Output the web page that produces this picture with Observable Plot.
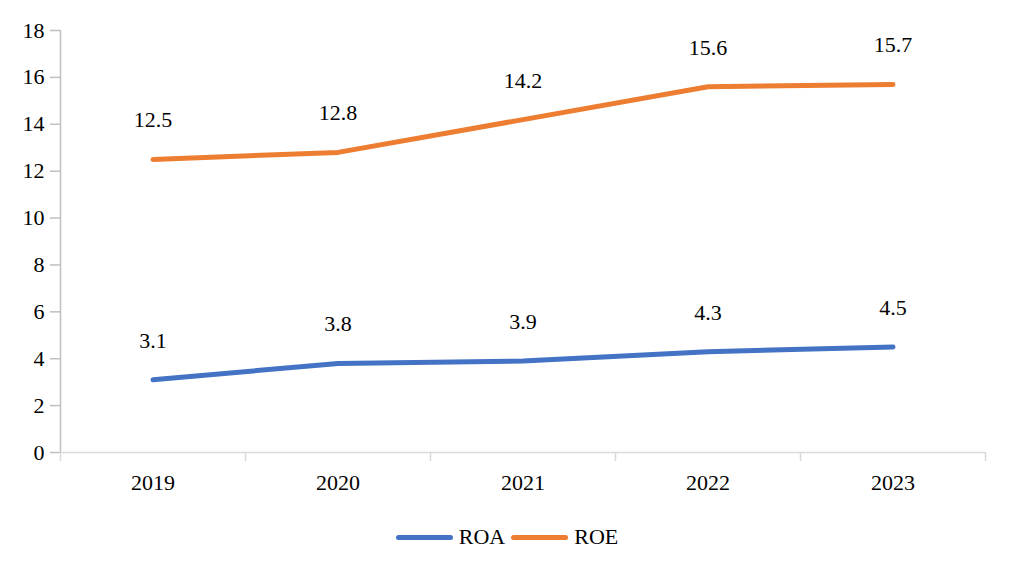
<!DOCTYPE html>
<html>
<head>
<meta charset="utf-8">
<script src="https://cdn.jsdelivr.net/npm/d3@7"></script>
<script src="https://cdn.jsdelivr.net/npm/@observablehq/plot@0.6"></script>
<style>
  body, #chart, #chart svg, #chart svg text, #chart div, #chart span {
    font-family: 'Times New Roman', 'Liberation Serif', serif !important;
  }
</style>
</head>
<body style="margin:0;padding:0;background:#fff">
<div id="chart" style="width:1014px"></div>
<script>
// Profitability ratios (%) by year
const years = [2019, 2020, 2021, 2022, 2023];
const roa = [3.1, 3.8, 3.9, 4.3, 4.5];
const roe = [12.5, 12.8, 14.2, 15.6, 15.7];
const yTicks = [0, 2, 4, 6, 8, 10, 12, 14, 16, 18];
const seriesNames = ["ROA", "ROE"];
const seriesColors = ["#4472C4", "#ED7D31"];

const rows = [
  ...years.map((year, i) => ({year, value: roa[i], series: "ROA"})),
  ...years.map((year, i) => ({year, value: roe[i], series: "ROE"}))
];

// category boundaries sit halfway between years
const xDomain = [years[0] - 0.5, years[years.length - 1] + 0.5];
const boundaries = [xDomain[0], ...years.map(y => y + 0.5)];

const font = "Times New Roman, Liberation Serif, serif";

const chart = Plot.plot({
  width: 1014,
  height: 500,
  marginTop: 30,
  marginBottom: 48,
  marginLeft: 60,
  marginRight: 29,
  style: {fontFamily: font, fontSize: "22px", color: "#000", background: "#fff"},
  x: {domain: xDomain},
  y: {domain: [0, 18]},
  color: {domain: seriesNames, range: seriesColors},
  marks: [
    Plot.axisY({ticks: yTicks, tickSize: 10, tickPadding: 6, stroke: "#bfbfbf", strokeWidth: 1.5, label: null, fontSize: 22, fill: "#000"}),
    Plot.ruleX([xDomain[0]], {stroke: "#bfbfbf", strokeWidth: 1.5}),
    Plot.ruleY([0], {stroke: "#d9d9d9", strokeWidth: 1.5}),
    Plot.axisX({ticks: boundaries, tickSize: 9, stroke: "#d9d9d9", strokeWidth: 1.5, tickFormat: () => "", label: null}),
    Plot.axisX({ticks: years, tickSize: 0, tickPadding: 22, tickFormat: d => String(d), label: null, fontSize: 22, fill: "#000"}),
    Plot.line(rows, {x: "year", y: "value", z: "series", stroke: "series", strokeWidth: 5, strokeLinecap: "round", strokeLinejoin: "round"}),
    Plot.text(rows, {x: "year", y: "value", text: d => d.value.toFixed(1), dy: -39, fontSize: 22, fill: "#000"})
  ]
});

document.getElementById("chart").appendChild(chart);

// legend row below the plot
const legend = document.createElement("div");
Object.assign(legend.style, {
  display: "flex", justifyContent: "center", alignItems: "center",
  height: "76px", paddingBottom: "2px", boxSizing: "border-box",
  fontSize: "22px", color: "#000"
});
seriesNames.forEach((name, i) => {
  const item = document.createElement("div");
  Object.assign(item.style, {display: "flex", alignItems: "center", margin: "0 3px"});
  const sw = document.createElement("span");
  Object.assign(sw.style, {display: "inline-block", width: "57px", height: "5px", borderRadius: "3px", marginRight: "6px", background: seriesColors[i]});
  const label = document.createElement("span");
  label.textContent = name;
  item.appendChild(sw);
  item.appendChild(label);
  legend.appendChild(item);
});
document.getElementById("chart").appendChild(legend);
</script>
</body>
</html>
